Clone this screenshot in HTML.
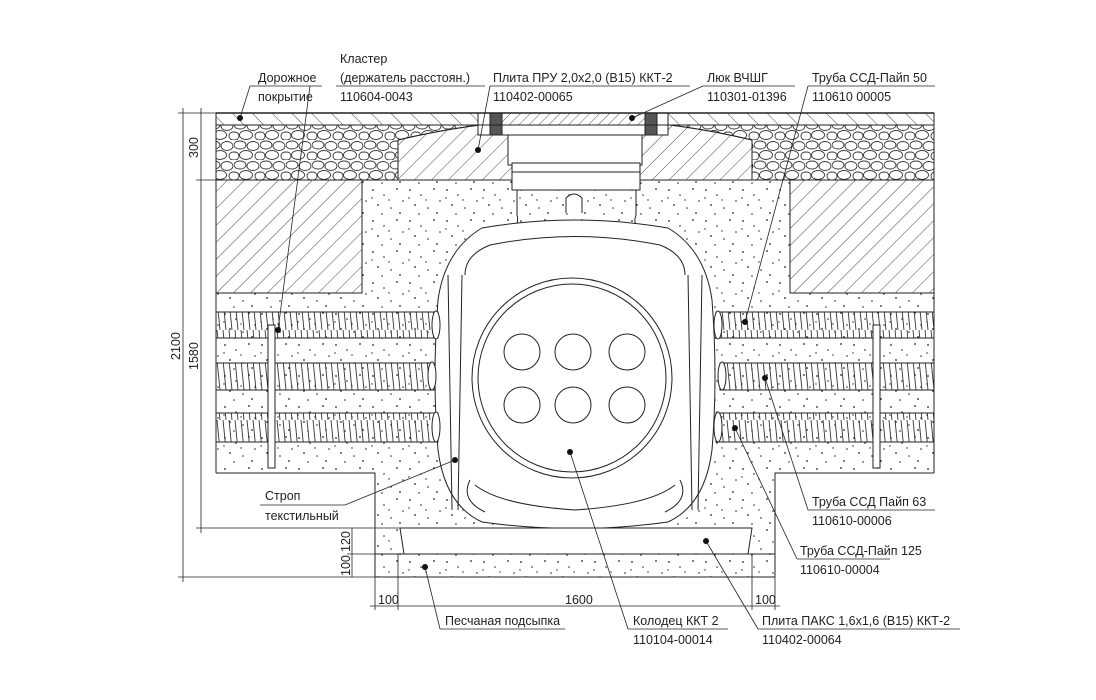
<!DOCTYPE html>
<html><head><meta charset="utf-8"><style>
html,body{margin:0;padding:0;background:#fff}
svg{display:block}
text{font-family:"Liberation Sans",sans-serif;font-size:12.5px;fill:#222}
</style></head><body>
<svg width="1096" height="700" viewBox="0 0 1096 700" xmlns="http://www.w3.org/2000/svg">
<defs>
<pattern id="hatch" width="12" height="12" patternUnits="userSpaceOnUse" patternTransform="rotate(45)">
<line x1="0" y1="0" x2="0" y2="12" stroke="#333" stroke-width="0.9"/></pattern>
<pattern id="hatchf" width="7" height="7" patternUnits="userSpaceOnUse" patternTransform="rotate(45)">
<line x1="0" y1="0" x2="0" y2="7" stroke="#333" stroke-width="0.8"/></pattern>
<pattern id="hatchr" width="14" height="14" patternUnits="userSpaceOnUse" patternTransform="rotate(-45)">
<line x1="0" y1="0" x2="0" y2="14" stroke="#333" stroke-width="0.9"/></pattern>
<pattern id="dots" width="37" height="31" patternUnits="userSpaceOnUse">
<g fill="#222"><circle cx="3" cy="4" r="0.9"/><circle cx="14" cy="9" r="0.8"/><circle cx="27" cy="3" r="0.9"/><circle cx="33" cy="15" r="0.8"/><circle cx="8" cy="19" r="0.9"/><circle cx="21" cy="22" r="0.8"/><circle cx="30" cy="27" r="0.9"/><circle cx="12" cy="28" r="0.8"/><circle cx="19" cy="14" r="0.7"/><circle cx="2" cy="12" r="0.7"/></g></pattern>
<pattern id="gravel" width="26" height="20" patternUnits="userSpaceOnUse">
<g fill="none" stroke="#333" stroke-width="0.9"><ellipse cx="6" cy="5" rx="6" ry="4"/><ellipse cx="19" cy="6" rx="6" ry="4.5"/><ellipse cx="12" cy="15" rx="6.5" ry="4.5"/><ellipse cx="25" cy="16" rx="4" ry="4"/><ellipse cx="1" cy="16" rx="4" ry="4"/></g></pattern>
<pattern id="pipe" width="6" height="30" patternUnits="userSpaceOnUse">
<line x1="1" y1="0" x2="4" y2="30" stroke="#333" stroke-width="0.9"/></pattern>
</defs>

<g stroke="#222" stroke-width="1" fill="none">
<!-- asphalt -->
<rect x="216" y="113" width="718" height="12" fill="url(#hatchr)"/>
<!-- gravel -->
<rect x="216" y="125" width="718" height="55" fill="url(#gravel)"/>
<!-- concrete fill -->
<path d="M362 180 H790 V293 H934 V473 H775 V577 H375 V473 H216 V293 H362 Z" fill="url(#dots)" stroke="none"/>
<!-- hatched earth blocks -->
<rect x="216" y="180" width="146" height="113" fill="url(#hatch)"/>
<rect x="790" y="180" width="144" height="113" fill="url(#hatch)"/>
<!-- slab PRU -->
<path d="M398 180 V140 Q440 130 480 125 H670 Q710 130 752 140 V180 Z" fill="#fff"/>
<path d="M398 180 V140 Q440 130 480 125 H670 Q710 130 752 140 V180 Z" fill="url(#hatch)"/>
<!-- hatch/lid at top -->
<rect x="478" y="113" width="190" height="22" fill="#fff"/>
<path d="M500 113 H650 V125 H500 Z" fill="url(#hatchf)"/>
<rect x="490" y="113" width="12" height="22" fill="#555"/>
<rect x="645" y="113" width="12" height="22" fill="#555"/>
<line x1="216" y1="125" x2="934" y2="125"/>
<line x1="216" y1="180" x2="398" y2="180"/><line x1="752" y1="180" x2="934" y2="180"/>
<line x1="216" y1="113" x2="934" y2="113" stroke-width="1.4"/>
<line x1="216" y1="113" x2="216" y2="473"/><line x1="934" y1="113" x2="934" y2="473"/>
<!-- neck -->
<rect x="508" y="135" width="134" height="30" fill="#fff"/>
<rect x="512" y="163" width="128" height="27" fill="#fff"/>
<line x1="512" y1="172" x2="640" y2="172"/>
<path d="M517 190 V215 Q520 225 510 232 M636 190 V215 Q632 225 642 232" />
<path d="M566 213 V198 Q574 190 582 198 V213" fill="#fff"/>
<!-- well body -->
<path d="M482 228 Q575 212 668 228 Q705 250 712 300 Q718 378 712 450 Q705 505 668 522 Q575 535 482 522 Q445 505 438 450 Q432 378 438 300 Q445 250 482 228 Z" fill="#fff"/>
<path d="M490 245 Q575 228 660 245 Q685 255 685 275 M490 245 Q465 255 465 275"/>
<path d="M475 485 Q500 505 575 510 Q650 505 675 485 M470 480 Q460 500 485 512 M680 480 Q690 500 665 512"/>
<circle cx="572" cy="378" r="100" fill="#fff"/>
<circle cx="572" cy="378" r="94"/>
<g fill="#fff"><circle cx="522" cy="352" r="18"/><circle cx="573" cy="352" r="18"/><circle cx="627" cy="352" r="18"/><circle cx="522" cy="405" r="18"/><circle cx="573" cy="405" r="18"/><circle cx="627" cy="405" r="18"/></g>
<!-- strap rods -->
<path d="M448 275 L452 510 M462 275 L458 510 M688 275 L692 510 M702 275 L698 510"/>
<!-- pipes left -->
<rect x="216" y="312" width="222" height="26" fill="url(#pipe)"/>
<rect x="216" y="363" width="218" height="27" fill="url(#pipe)"/>
<rect x="216" y="413" width="222" height="29" fill="url(#pipe)"/>
<ellipse cx="436" cy="325" rx="4" ry="14" fill="#fff"/><ellipse cx="432" cy="376" rx="4" ry="14" fill="#fff"/><ellipse cx="436" cy="427" rx="4" ry="15" fill="#fff"/>
<!-- pipes right -->
<rect x="716" y="312" width="218" height="26" fill="url(#pipe)"/>
<rect x="720" y="363" width="214" height="27" fill="url(#pipe)"/>
<rect x="716" y="413" width="218" height="29" fill="url(#pipe)"/>
<ellipse cx="718" cy="325" rx="4" ry="14" fill="#fff"/><ellipse cx="722" cy="376" rx="4" ry="14" fill="#fff"/><ellipse cx="718" cy="427" rx="4" ry="15" fill="#fff"/>
<!-- clusters -->
<rect x="268" y="325" width="7" height="143" fill="#fff"/>
<rect x="873" y="325" width="7" height="143" fill="#fff"/>
<!-- bottom -->
<path d="M216 473 H375 V577 M934 473 H775 V577"/>
<path d="M400 528 H752 L748 554 H404 Z" fill="#fff"/>
<line x1="375" y1="554" x2="775" y2="554"/>
<line x1="375" y1="577" x2="775" y2="577"/>
<!-- dimension lines -->
<line x1="183" y1="108" x2="183" y2="582" stroke-width="0.8"/>
<line x1="201" y1="108" x2="201" y2="533" stroke-width="0.8"/>
<line x1="178" y1="113" x2="216" y2="113" stroke-width="0.8"/>
<line x1="196" y1="180" x2="216" y2="180" stroke-width="0.8"/>
<line x1="196" y1="528" x2="400" y2="528" stroke-width="0.8"/>
<line x1="178" y1="577" x2="375" y2="577" stroke-width="0.8"/>
<line x1="352" y1="528" x2="352" y2="577" stroke-width="0.8"/>
<line x1="347" y1="554" x2="375" y2="554" stroke-width="0.8"/>
<line x1="370" y1="606" x2="780" y2="606" stroke-width="0.8"/>
<path d="M375 577 V610 M398 554 V610 M752 554 V610 M775 577 V610" stroke-width="0.8"/>
<!-- underlines & leaders -->
<g stroke-width="0.8">
<path d="M250 86 H322 M240 118 L250 86"/>
<path d="M336 86 H485 M278 330 L310 86"/>
<path d="M490 86 H690 M478 150 L490 86"/>
<path d="M703 86 H795 M632 118 L703 86"/>
<path d="M808 86 H935 M745 322 L808 86"/>
<path d="M808 510 H935 M765 378 L808 510"/>
<path d="M797 559 H890 M735 428 L797 559"/>
<path d="M260 505 H345 M345 505 L455 460"/>
<path d="M440 629 H565 M425 567 L440 629"/>
<path d="M628 629 H728 M570 452 L628 629"/>
<path d="M758 629 H960 M706 541 L758 629"/>
</g>
</g>
<g fill="#111">
<circle cx="240" cy="118" r="3"/><circle cx="278" cy="330" r="3"/><circle cx="478" cy="150" r="3"/><circle cx="632" cy="118" r="3"/><circle cx="745" cy="322" r="3"/><circle cx="765" cy="378" r="3"/><circle cx="735" cy="428" r="3"/><circle cx="455" cy="460" r="3"/><circle cx="425" cy="567" r="3"/><circle cx="570" cy="452" r="3"/><circle cx="706" cy="541" r="3"/>
</g>
<text x="258" y="82">Дорожное</text><text x="258" y="101">покрытие</text>
<text x="340" y="63">Кластер</text><text x="340" y="82">(держатель расстоян.)</text><text x="340" y="101">110604-0043</text>
<text x="493" y="82">Плита ПРУ 2,0х2,0 (В15) ККТ-2</text><text x="493" y="101">110402-00065</text>
<text x="707" y="82">Люк ВЧШГ</text><text x="707" y="101">110301-01396</text>
<text x="812" y="82">Труба ССД-Пайп 50</text><text x="812" y="101">110610 00005</text>
<text x="812" y="506">Труба ССД Пайп 63</text><text x="812" y="525">110610-00006</text>
<text x="800" y="555">Труба ССД-Пайп 125</text><text x="800" y="574">110610-00004</text>
<text x="265" y="500">Строп</text><text x="265" y="520">текстильный</text>
<text x="445" y="625">Песчаная подсыпка</text>
<text x="633" y="625">Колодец ККТ 2</text><text x="633" y="644">110104-00014</text>
<text x="762" y="625">Плита ПАКС 1,6х1,6 (В15) ККТ-2</text><text x="762" y="644">110402-00064</text>
<g style="font-size:10px">
<text x="378" y="604">100</text><text x="565" y="604">1600</text><text x="755" y="604">100</text>
<text transform="translate(198,158) rotate(-90)">300</text>
<text transform="translate(198,370) rotate(-90)">1580</text>
<text transform="translate(180,360) rotate(-90)">2100</text>
<text transform="translate(350,552) rotate(-90)">120</text>
<text transform="translate(350,576) rotate(-90)">100</text>
</g>
</svg>
</body></html>
